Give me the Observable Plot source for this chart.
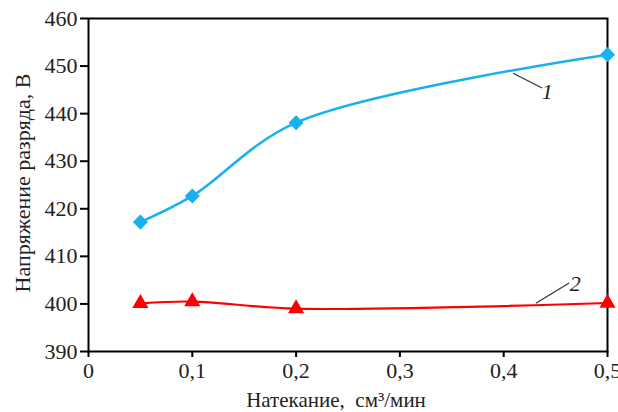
<!DOCTYPE html>
<html><head><meta charset="utf-8">
<script src="https://cdn.jsdelivr.net/npm/d3@7"></script>
<script src="https://cdn.jsdelivr.net/npm/@observablehq/plot@0.6"></script>
<style>
body{margin:0;background:#fff}
</style>
</head><body><div id="chart"></div>
<script>
const flow = [0.05, 0.1, 0.2, 0.5];
const voltage1 = [417.2, 422.7, 438.1, 452.4];
const voltage2 = [400.1, 400.5, 399.0, 400.2];
const xTicks = [0, 0.1, 0.2, 0.3, 0.4, 0.5];
const yTicks = [390, 400, 410, 420, 430, 440, 450, 460];
const seriesLabels = ["1", "2"];
const leaderX1 = [0.409, 0.431];
const leaderY1 = [448.5, 400.15];
const leaderX2 = [0.437, 0.463];
const leaderY2 = [445.4, 404.4];
const labelX = [0.442, 0.469];
const labelY = [444.5, 404.2];
const xTitle = "Натекание,\u00a0\u00a0см³/мин";
const yTitle = "Напряжение разряда, В";

const FONT = "Liberation Serif";
const s1 = flow.map((x, i) => ({x, y: voltage1[i]}));
const s2 = flow.map((x, i) => ({x, y: voltage2[i]}));
const ann = seriesLabels.map((t, i) => ({t, x1: leaderX1[i], y1: leaderY1[i], x2: leaderX2[i], y2: leaderY2[i], lx: labelX[i], ly: labelY[i]}));
const fmt = d => d === 0 ? "0" : String(d).replace(".", ",");

const chart = Plot.plot({
  width: 618, height: 412,
  marginLeft: 88, marginRight: 11, marginTop: 18, marginBottom: 61,
  x: {domain: [0, 0.5]},
  y: {domain: [390, 460]},
  marks: [
    Plot.axisY({ticks: yTicks, tickSize: 8, tickPadding: 3, label: null, strokeWidth: 2, stroke: "black", fill: "#222", fontFamily: FONT, fontSize: 22}),
    Plot.axisX({ticks: xTicks, tickFormat: fmt, tickSize: 6, tickPadding: 5, label: null, strokeWidth: 2, stroke: "black", fill: "#222", fontFamily: FONT, fontSize: 22}),
    Plot.frame({stroke: "black", strokeWidth: 2}),
    Plot.text([xTitle], {frameAnchor: "bottom", lineAnchor: "middle", textAnchor: "middle", dy: 49, dx: -12, fontSize: 21, fontFamily: FONT, fill: "#222"}),
    Plot.text([yTitle], {frameAnchor: "left", rotate: -90, textAnchor: "middle", lineAnchor: "middle", dx: -66, dy: -2, fontSize: 22, fontFamily: FONT, fill: "#222"}),
    Plot.line(s1, {x: "x", y: "y", curve: "catmull-rom", stroke: "#1ab0ee", strokeWidth: 2.5}),
    Plot.line(s2, {x: "x", y: "y", curve: "catmull-rom", stroke: "#ff0000", strokeWidth: 2.2}),
    Plot.dot(s1, {x: "x", y: "y", symbol: "diamond2", r: 6.8, fill: "#1ab0ee", stroke: "none"}),
    Plot.dot(s2, {x: "x", y: "y", symbol: "triangle", r: 6, fill: "#ff0000", stroke: "none"}),
    Plot.link(ann, {x1: "x1", y1: "y1", x2: "x2", y2: "y2", stroke: "#333", strokeWidth: 1.2}),
    Plot.text(ann, {x: "lx", y: "ly", text: "t", fontSize: 22, fontFamily: FONT, fontStyle: "italic", fill: "#222"})
  ]
});
chart.querySelectorAll("text, g").forEach(el => {
  el.style.fontFamily = "'Liberation Serif', 'Times New Roman', serif";
  el.style.fontVariant = "normal";
});
document.getElementById("chart").appendChild(chart);
</script>
</body></html>
